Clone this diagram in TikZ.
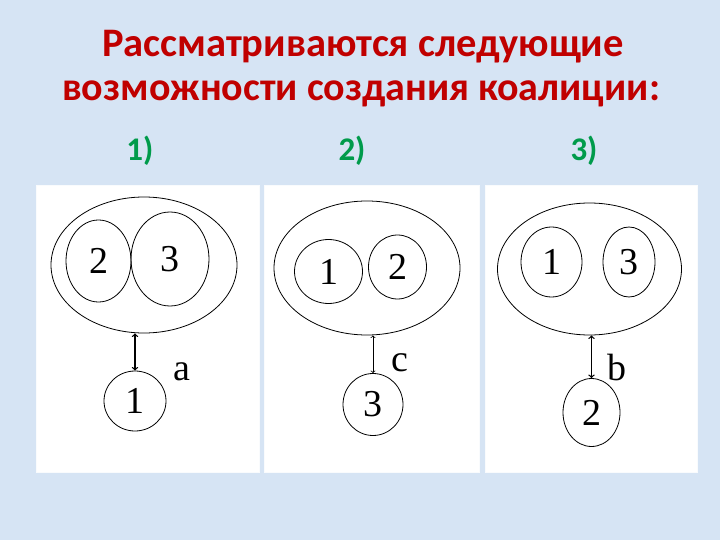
\documentclass[tikz,border=0pt]{standalone}
\usepackage{fontspec}
\setmainfont{Liberation Serif}
\newfontfamily\titlefont{Carlito}
\usepackage{tikz}
\usetikzlibrary{arrows,positioning}
\usetikzlibrary{shapes.geometric}
\usetikzlibrary{calc}
\definecolor{slidebg}{RGB}{214,228,244}
\definecolor{titlered}{RGB}{192,0,0}
\definecolor{numgreen}{RGB}{0,155,75}
\newcommand{\ttl}[1]{\titlefont\bfseries #1}

\begin{document}
\begin{tikzpicture}[x=1pt,y=-1pt]
    \tikzstyle{every node}=[font=\fontsize{38}{38}\selectfont]
    \tikzstyle{player}=[draw, ellipse, inner sep=0pt, line width=0.8pt]
    \tikzstyle{panel}=[fill=white, draw=white!85!slidebg]
    % background and title
    \fill[slidebg] (0,0) rectangle (720,540);
    \useasboundingbox (0,0) rectangle (720,540);
    \node[anchor=base, text=titlered, font=\fontsize{40.5}{40}\selectfont\ttl{}] (T1) at (363,57) {Рассматриваются следующие};
    \node[anchor=base, text=titlered, font=\fontsize{40}{40}\selectfont\ttl{}] (T2) at (361,101) {возможности создания коалиции:};
    \node[anchor=base, text=numgreen, font=\fontsize{33}{33}\selectfont\ttl{}] (N1) at (140,161) {1)};
    \node[anchor=base, text=numgreen, font=\fontsize{33}{33}\selectfont\ttl{}] (N2) at (352,161) {2)};
    \node[anchor=base, text=numgreen, font=\fontsize{33}{33}\selectfont\ttl{}] (N3) at (584,161) {3)};
    \filldraw[panel] (36,185) rectangle (259,472);
    \filldraw[panel] (264,185) rectangle (479,472);
    \filldraw[panel] (485,185) rectangle (697,472);
    % 1) coalition {2,3} against 1
    \node[player, minimum width=186pt, minimum height=136pt] (E1) at (144,265) {}; %
    \node[player, minimum width=65pt, minimum height=82pt] (P2a) at ($(E1)+(-45.5,-4)$) {2}; %
    \node[player, minimum width=78pt, minimum height=94pt] (P3a) at ($(E1)+(26,-6)$) {3}; %
    \node[player, minimum width=62pt, minimum height=60pt] (P1a) at ($(E1)+(-9,136)$) {1}; %
    \draw[<->, >=to, line width=1.3pt] (P1a.north |- E1.south) -- (P1a.north); %
    \node (La) at (182,372) {a}; %
    % 2) coalition {1,2} against 3
    \node[player, minimum width=186pt, minimum height=134pt] (E2) at (367,268) {}; %
    \node[player, minimum width=68pt, minimum height=64pt] (P1b) at ($(E2)+(-38.5,3.5)$) {1}; %
    \node[player, minimum width=58pt, minimum height=64pt] (P2b) at ($(E2)+(30.5,-1)$) {2}; %
    \node[player, minimum width=60pt, minimum height=62pt] (P3b) at ($(E2)+(6,136.5)$) {3}; %
    \draw[<->, >=to, line width=0.8pt] (P3b.north |- E2.south) -- (P3b.north); %
    \node (Lc) at (400,363) {c}; %
    % 3) coalition {1,3} against 2
    \node[player, minimum width=184pt, minimum height=132pt] (E3) at (589.5,269) {}; %
    \node[player, minimum width=61pt, minimum height=70pt] (P1c) at ($(E3)+(-38,-7)$) {1}; %
    \node[player, minimum width=52pt, minimum height=70pt] (P3c) at ($(E3)+(39.5,-7)$) {3}; %
    \node[player, minimum width=57pt, minimum height=68pt] (P2c) at ($(E3)+(2,143.5)$) {2}; %
    \draw[<->, >=to, line width=1.3pt] (P2c.north |- E3.south) -- (P2c.north); %
    \node (Lb) at (617,368) {b}; %
\end{tikzpicture}
\end{document}
